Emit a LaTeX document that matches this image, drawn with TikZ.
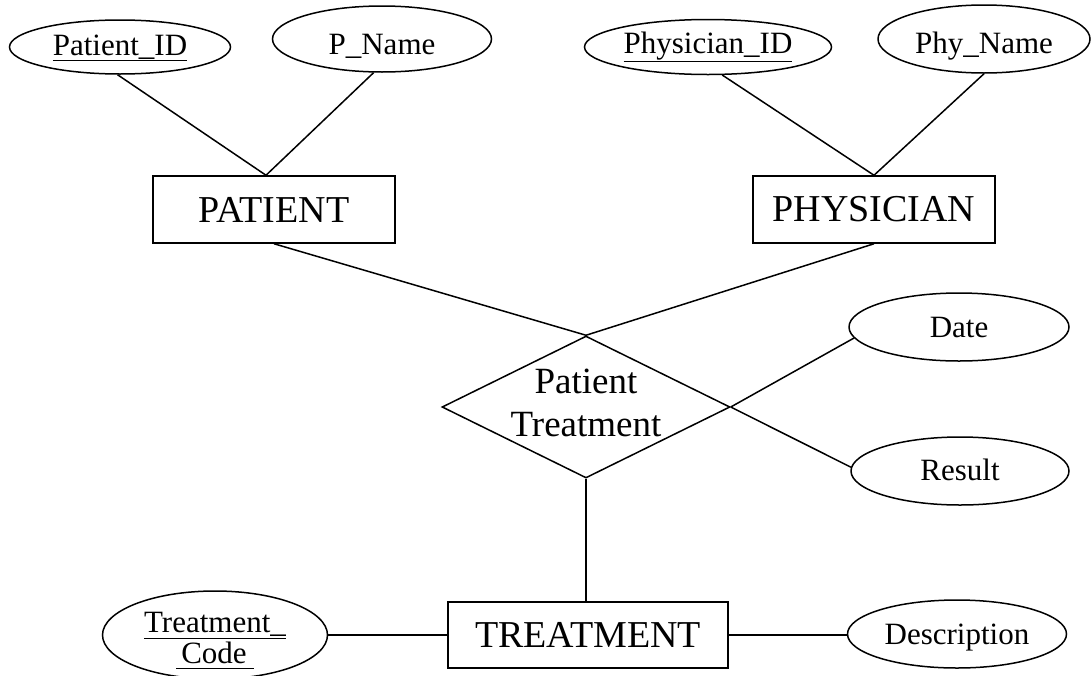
\documentclass[tikz,border=0pt]{standalone}
\usepackage{fontspec}
\setmainfont{Liberation Serif}
\usetikzlibrary{shapes.geometric}
\begin{document}
\begin{tikzpicture}[x=1pt,y=-1pt,line width=1.5pt,
  attr/.style={draw, ellipse, inner sep=0pt, font=\fontsize{31}{30}\selectfont},
  entity/.style={draw, rectangle, inner sep=0pt, font=\fontsize{38}{43}\selectfont},
  relation/.style={draw, diamond, inner sep=0pt},
  rellabel/.style={inner sep=0pt, align=center, font=\fontsize{37}{43}\selectfont}]
\useasboundingbox (0,0) rectangle (1091,675);

% attributes of PATIENT
\node[attr, minimum width=221pt, minimum height=54pt, text height=21pt, text depth=5pt]
  (pid) at (120,47) {\underline{Patient\_ID}};
\node[attr, minimum width=219pt, minimum height=66pt, text height=32pt, text depth=2pt]
  (pname) at (382,39) {P\_Name};

% attributes of PHYSICIAN
\node[attr, minimum width=247pt, minimum height=55pt, text height=21pt, text depth=9pt]
  (phid) at (708,47) {\underline{Physician\_ID}};
\node[attr, minimum width=212pt, minimum height=68pt, text height=30pt, text depth=2pt]
  (phname) at (984,39) {Phy\_Name};

% entities
\node[entity, minimum width=242pt, minimum height=67pt] (patient) at (274,209.5) {PATIENT};
\node[entity, minimum width=242pt, minimum height=67pt] (physician) at (874,209.5) {PHYSICIAN};
\node[entity, minimum width=280pt, minimum height=66pt] (treatment) at (588,635) {TREATMENT};

% relationship
\node[relation, minimum width=288pt, minimum height=142pt] (pt) at (586,407) {};
\node[rellabel] (ptlabel) at (586,403) {Patient\\Treatment};

% attributes of the relationship
\node[attr, minimum width=220pt, minimum height=68pt, text height=21pt, text depth=1pt]
  (date) at (959,327) {Date};
\node[attr, minimum width=218pt, minimum height=68pt, text height=21pt, text depth=3pt]
  (result) at (960,471) {Result};

% attributes of TREATMENT
\node[attr, minimum width=225pt, minimum height=88pt] (tcode) at (215,635)
  {\raisebox{0pt}[58pt][2pt]{\begin{tabular}[b]{@{}c@{}}\underline{Treatment\_}\\\underline{\rule[-4pt]{0pt}{4pt}\kern5pt Code\kern7pt}\end{tabular}}};
\node[attr, minimum width=219pt, minimum height=68pt, text height=21pt, text depth=1pt]
  (desc) at (957,634) {Description};

% connectors
\draw (pid.-95) -- ([xshift=-8pt]patient.north);
\draw (pname.-104) -- ([xshift=-8pt]patient.north);
\draw (phid.-63) -- (physician.north);
\draw (phname.south) -- (physician.north);
\draw (patient.south) -- (pt.north);
\draw (physician.south) -- (pt.north);
\draw (pt.east) -- (date.186);
\draw (pt.east) -- (result.178);
\draw (pt.south) -- (pt.south |- treatment.north);
\draw (tcode.east) -- (treatment.west);
\draw (treatment.east) -- (treatment.east -| desc.west);
\end{tikzpicture}
\end{document}
